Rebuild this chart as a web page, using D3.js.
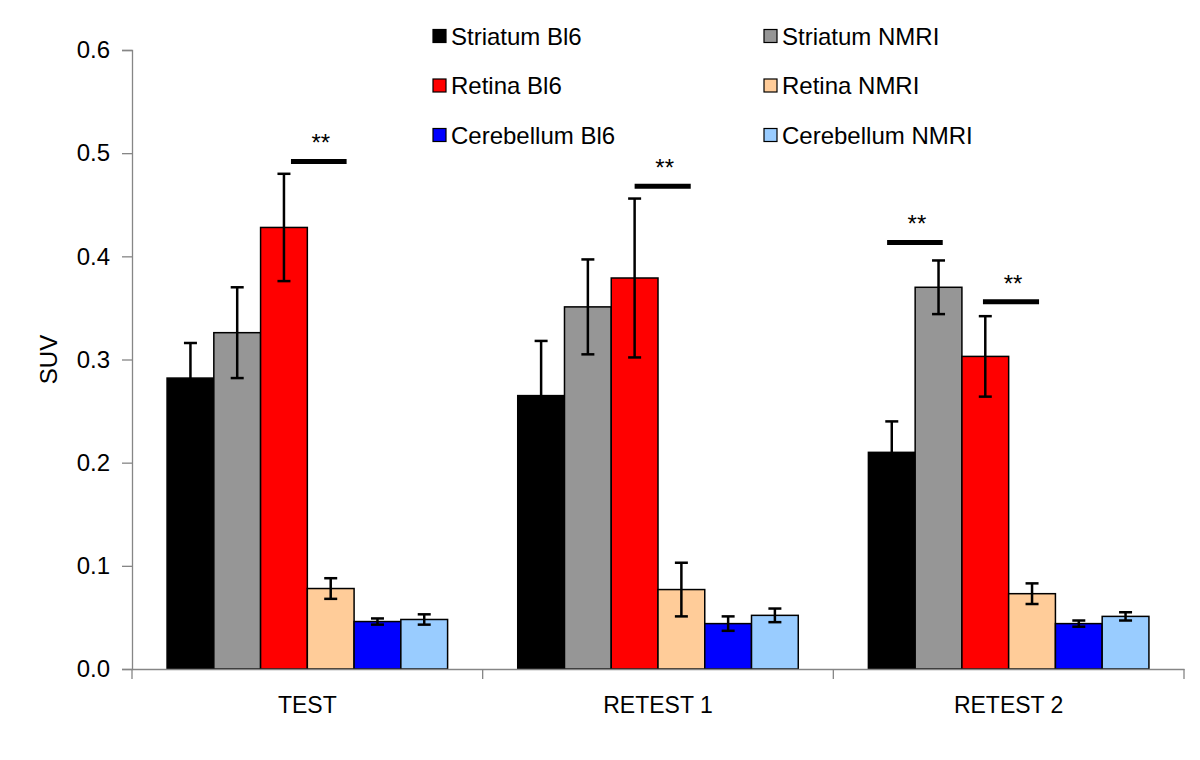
<!DOCTYPE html>
<html>
<head>
<meta charset="utf-8">
<script src="https://cdn.jsdelivr.net/npm/d3@7"></script>
<style>
  html, body { margin: 0; padding: 0; background: #fff; }
  text { font-family: Arial, "Liberation Sans", sans-serif; fill: #000; }
</style>
</head>
<body>
<svg id="chart" width="1200" height="760"></svg>
<script>
// ---- data ----
const categories = ["TEST", "RETEST 1", "RETEST 2"];
const seriesNames = ["Striatum Bl6", "Striatum NMRI", "Retina Bl6", "Retina NMRI", "Cerebellum Bl6", "Cerebellum NMRI"];
const seriesColors = ["#000000", "#969696", "#ff0000", "#ffcc99", "#0000ff", "#99ccff"];

const striatumBl6      = [0.282, 0.265, 0.210];
const striatumBl6Err   = [0.034, 0.053, 0.030];
const striatumNMRI     = [0.326, 0.351, 0.370];
const striatumNMRIErr  = [0.044, 0.046, 0.026];
const retinaBl6        = [0.428, 0.379, 0.303];
const retinaBl6Err     = [0.052, 0.077, 0.039];
const retinaNMRI       = [0.078, 0.077, 0.073];
const retinaNMRIErr    = [0.010, 0.026, 0.010];
const cerebellumBl6    = [0.046, 0.044, 0.044];
const cerebellumBl6Err = [0.003, 0.007, 0.003];
const cerebellumNMRI   = [0.048, 0.052, 0.051];
const cerebellumNMRIErr= [0.005, 0.0066, 0.004];

const yTicks = [0, 0.1, 0.2, 0.3, 0.4, 0.5, 0.6];
const yLabel = "SUV";

// significance annotations
const sigCategory = [0, 1, 2, 2];
const sigFrom     = [2.65, 2.50, 0.40, 2.45];  // in bar-slot units from group start
const sigTo       = [3.84, 3.70, 1.59, 3.65];
const sigLevel    = [0.492, 0.468, 0.4135, 0.356];
const sigText     = ["**", "**", "**", "**"];

// ---- build table ----
const values = [striatumBl6, striatumNMRI, retinaBl6, retinaNMRI, cerebellumBl6, cerebellumNMRI];
const errors = [striatumBl6Err, striatumNMRIErr, retinaBl6Err, retinaNMRIErr, cerebellumBl6Err, cerebellumNMRIErr];
const rows = [];
categories.forEach((c, ci) => {
  seriesNames.forEach((s, si) => {
    rows.push({ cat: c, series: s, si, value: values[si][ci], err: errors[si][ci] });
  });
});

// ---- layout ----
const svg = d3.select("#chart");
const plotLeft = 132, plotRight = 1184, plotTop = 50, plotBottom = 669;

const x0 = d3.scaleBand().domain(categories).range([plotLeft, plotRight]).padding(0);
const x1 = d3.scaleBand().domain(seriesNames).range([0, x0.bandwidth()])
  .paddingInner(0).paddingOuter(0.75);
const y = d3.scaleLinear().domain([0, 0.6]).range([plotBottom, plotTop]);
const color = d3.scaleOrdinal().domain(seriesNames).range(seriesColors);

const axisColor = "#868686";

// bars
svg.append("g").selectAll("rect").data(rows).join("rect")
  .attr("x", d => x0(d.cat) + x1(d.series))
  .attr("y", d => y(d.value))
  .attr("width", x1.bandwidth())
  .attr("height", d => y(0) - y(d.value))
  .attr("fill", d => color(d.series))
  .attr("stroke", "#000")
  .attr("stroke-width", 1.5);

// error bars
const eb = svg.append("g").attr("stroke", "#000").attr("stroke-width", 2.5);
rows.forEach(d => {
  const cx = x0(d.cat) + x1(d.series) + x1.bandwidth() / 2;
  const yt = y(d.value + d.err), yb = y(d.value - d.err);
  eb.append("line").attr("x1", cx).attr("x2", cx).attr("y1", yt).attr("y2", yb);
  eb.append("line").attr("x1", cx - 6.5).attr("x2", cx + 6.5).attr("y1", yt).attr("y2", yt);
  eb.append("line").attr("x1", cx - 6.5).attr("x2", cx + 6.5).attr("y1", yb).attr("y2", yb);
});

// y axis
const yAxis = d3.axisLeft(y).tickValues(yTicks).tickFormat(d3.format(".1f")).tickSizeOuter(0).tickSize(10).tickPadding(12);
const gy = svg.append("g").attr("transform", `translate(${plotLeft},0)`).call(yAxis);
gy.select(".domain").attr("stroke", axisColor).attr("stroke-width", 1.3);
gy.selectAll(".tick line").attr("stroke", axisColor).attr("stroke-width", 1.3);
gy.selectAll(".tick text").attr("font-size", 24).attr("font-family", "Arial, 'Liberation Sans', sans-serif").attr("fill", "#000");

// x axis
const xAxis = d3.axisBottom(x0).tickSize(0).tickPadding(28);
const gx = svg.append("g").attr("transform", `translate(0,${plotBottom})`).call(xAxis);
gx.select(".domain").attr("stroke", axisColor).attr("stroke-width", 1.3);
gx.selectAll(".tick text").attr("font-size", 23).attr("font-family", "Arial, 'Liberation Sans', sans-serif").attr("fill", "#000");
// category boundary ticks
const boundaries = categories.map(c => x0(c)).concat([x0(categories[categories.length - 1]) + x0.bandwidth()]);
gx.selectAll(".bnd").data(boundaries).join("line").attr("class", "bnd")
  .attr("x1", d => d).attr("x2", d => d).attr("y1", 0).attr("y2", 10)
  .attr("stroke", axisColor).attr("stroke-width", 1.3);

// y label
svg.append("text")
  .attr("transform", `translate(48,${(plotTop + plotBottom) / 2}) rotate(-90)`)
  .attr("text-anchor", "middle").attr("dominant-baseline", "central")
  .attr("font-size", 24).text(yLabel);

// significance bars
sigCategory.forEach((ci, i) => {
  const gx0 = x0(categories[ci]) + x1(seriesNames[0]);
  const xa = gx0 + sigFrom[i] * x1.step();
  const xb = gx0 + sigTo[i] * x1.step();
  const yy = y(sigLevel[i]);
  svg.append("line").attr("x1", xa).attr("x2", xb).attr("y1", yy).attr("y2", yy)
    .attr("stroke", "#000").attr("stroke-width", 5);
  svg.append("text").attr("x", (xa + xb) / 2 + 2).attr("y", yy - 10)
    .attr("text-anchor", "middle").attr("font-size", 24).text(sigText[i]);
});

// legend
const legCols = [433, 764];
const legRows = [36, 85.5, 135];
const legendOrder = [0, 2, 4, 1, 3, 5];
legendOrder.forEach((si, k) => {
  const col = Math.floor(k / 3), row = k % 3;
  const lx = legCols[col], ly = legRows[row];
  svg.append("rect").attr("x", lx).attr("y", ly - 6.5).attr("width", 13).attr("height", 13)
    .attr("fill", seriesColors[si]).attr("stroke", "#000").attr("stroke-width", 1.2);
  svg.append("text").attr("x", lx + 18).attr("y", ly).attr("dominant-baseline", "central")
    .attr("font-size", 24).text(seriesNames[si]);
});
</script>
</body>
</html>
